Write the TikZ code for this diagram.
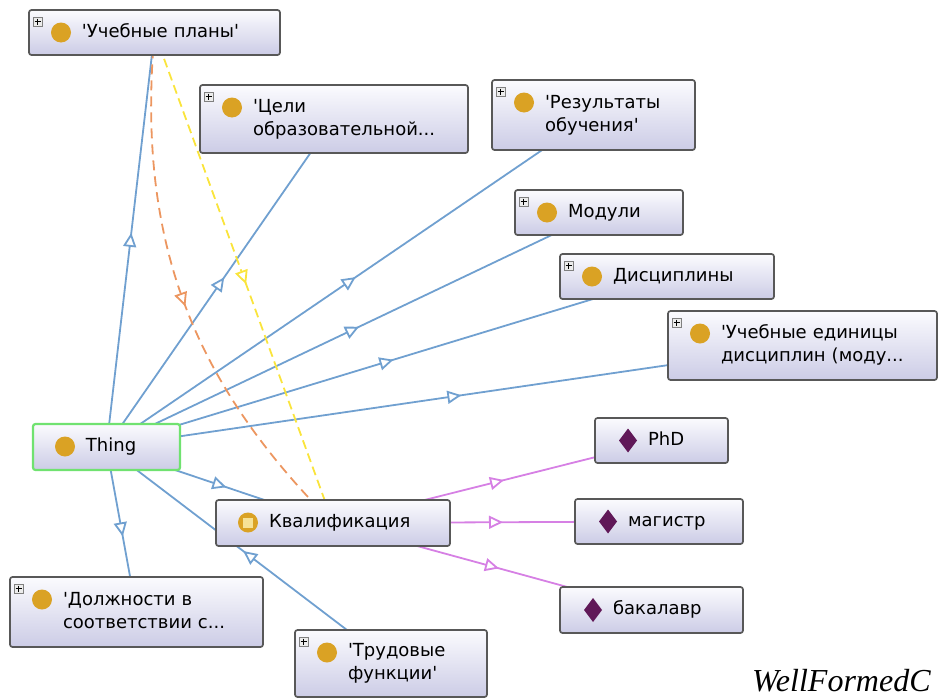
\documentclass[tikz,border=0pt]{standalone}
\usepackage{fontspec}
\newfontfamily\ontofont{DejaVu Sans}
\newfontfamily\capfont{Liberation Serif}
\usetikzlibrary{arrows.meta,decorations.markings,backgrounds}

\definecolor{isablue}{RGB}{112,160,208}
\definecolor{domorange}{RGB}{236,150,96}
\definecolor{rngyellow}{RGB}{250,228,60}
\definecolor{instpink}{RGB}{214,128,228}
\definecolor{boxline}{RGB}{88,88,88}
\definecolor{boxtop}{RGB}{251,251,254}
\definecolor{boxbottom}{RGB}{204,204,230}
\definecolor{thinggreen}{RGB}{112,226,112}
\definecolor{clsorange}{RGB}{218,162,36}
\definecolor{defyellow}{RGB}{246,226,150}
\definecolor{indpurple}{RGB}{96,24,88}

\newcommand{\apos}{\textquotesingle}
\newcommand{\ontotext}[1]{\hspace*{53pt}\begin{tabular}{@{}l@{}}#1\end{tabular}}
% icons, drawn inside the boxes
\newcommand{\clsdot}{\fill[clsorange] ([xshift=32pt,yshift=-22.5pt]path picture bounding box.north west) circle (10pt);}
\newcommand{\defdot}{\clsdot
  \fill[defyellow, sharp corners] ([xshift=27pt,yshift=-27.5pt]path picture bounding box.north west) rectangle ++(10pt,10pt);}
\newcommand{\plusmark}{\draw[gray, fill=gray!15, line width=0.6pt, sharp corners] ([xshift=4pt,yshift=-7pt]path picture bounding box.north west) rectangle ++(9pt,-9pt);
  \draw[black, line width=1.1pt] ([xshift=5.5pt,yshift=-11.5pt]path picture bounding box.north west) -- ++(6pt,0pt)
    ([xshift=8.5pt,yshift=-8.5pt]path picture bounding box.north west) -- ++(0pt,-6pt);}
\newcommand{\inddot}{\fill[indpurple, sharp corners] ([xshift=33pt]path picture bounding box.west) ++(0pt,12pt) -- ++(9pt,-12pt) -- ++(-9pt,-12pt) -- ++(-9pt,12pt) -- cycle;}

\tikzstyle{box} = [rectangle, rounded corners=2.5pt, draw=boxline, line width=1.7pt, top color=boxtop, bottom color=boxbottom, inner xsep=0pt, inner ysep=0pt, minimum height=45pt, align=left, font=\ontofont\fontsize{18}{23}\selectfont]
\tikzstyle{cls} = [box, path picture={\clsdot\plusmark}]
\tikzstyle{root} = [box, draw=thinggreen, line width=2.2pt, path picture={\clsdot}]
\tikzstyle{defcls} = [box, path picture={\defdot}]
\tikzstyle{indiv} = [box, path picture={\inddot}]
\tikzstyle{isa} = [draw=isablue, line width=1.8pt, postaction={decorate}, decoration={markings, mark=at position 0.5 with {\arrow[xshift=7pt]{Triangle[width=13pt,length=14pt,fill=white]}}}]
\tikzstyle{dom} = [isa, draw=domorange, dash pattern=on 10pt off 6pt]
\tikzstyle{rng} = [isa, draw=rngyellow, dash pattern=on 9pt off 5pt]
\tikzstyle{inst} = [isa, draw=instpink]

\begin{document}
\begin{tikzpicture}[x=1pt, y=-1pt]
    \clip (0,0) rectangle (938,699);

    \node (plans) [cls, text width=251pt] at (154.5,32.5) {\ontotext{\apos Учебные планы\apos}};
    \node (goals) [cls, text width=268pt, minimum height=68pt] at (334,119) {\ontotext{\apos Цели\\образовательной...}};
    \node (results) [cls, text width=203pt, minimum height=70pt] at (593.5,115) {\ontotext{\apos Результаты\\обучения\apos}};
    \node (modules) [cls, text width=168pt] at (599,212.5) {\ontotext{Модули}};
    \node (disc) [cls, text width=214pt] at (667,276.5) {\ontotext{Дисциплины}};
    \node (units) [cls, text width=269pt, minimum height=69pt] at (802.5,345.5) {\ontotext{\apos Учебные единицы\\дисциплин (моду...}};
    \node (thing) [root, text width=147pt, minimum height=46pt] at (106.5,447) {\ontotext{Thing}};
    \node (qual) [defcls, text width=234pt, minimum height=46pt] at (333,523) {\ontotext{Квалификация}};
    \node (phd) [indiv, text width=133pt] at (661.5,440.5) {\ontotext{PhD}};
    \node (master) [indiv, text width=168pt] at (659,521.5) {\ontotext{магистр}};
    \node (bachelor) [indiv, text width=183pt, minimum height=46pt] at (651.5,610) {\ontotext{бакалавр}};
    \node (posts) [cls, text width=253pt, minimum height=70pt] at (136.5,612) {\ontotext{\apos Должности в\\соответствии с...}};
    \node (labor) [cls, text width=192pt, minimum height=67pt] at (391,663.5) {\ontotext{\apos Трудовые\\функции\apos}};

    \node (wfc) [anchor=base west, inner sep=0pt, font=\capfont\itshape\fontsize{32}{32}\selectfont] at (752,691) {WellFormedC};

    \begin{pgfonlayer}{background}
        \draw [isa] (thing.center) -- (plans.center);
        \draw [isa] (thing.center) -- (goals.center);
        \draw [isa] (thing.center) -- (results.center);
        \draw [isa] (thing.center) -- (modules.center);
        \draw [isa] (thing.center) -- (disc.center);
        \draw [isa] (thing.center) -- (units.center);
        \draw [isa] (thing.center) -- (qual.center);
        \draw [isa] (thing.center) -- (posts.center);
        \draw [isa] (labor.center) -- (thing.center);
        \draw [dom] (plans.center) to[bend right=25] (qual.center);
        \draw [rng] (plans.center) -- (qual.center);
        \draw [inst] (qual.center) -- (phd.center);
        \draw [inst] (qual.center) -- (master.center);
        \draw [inst] (qual.center) -- (bachelor.center);
    \end{pgfonlayer}

\end{tikzpicture}
\end{document}
